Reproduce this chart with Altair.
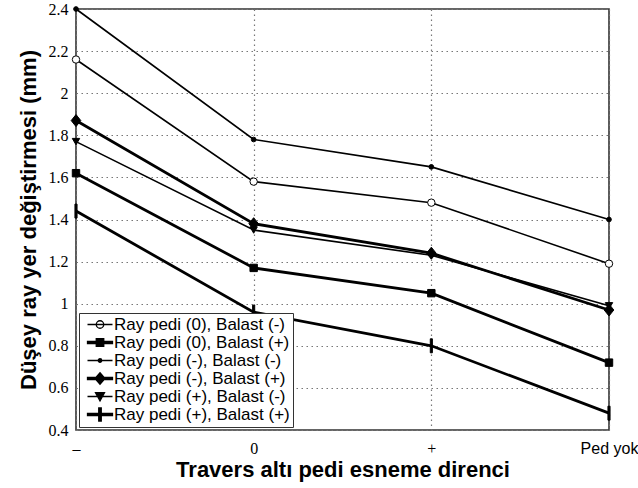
import altair as alt
import pandas as pd

cats = ["–", "0", "+", "Ped yok"]
names = [
    "Ray pedi (0), Balast (-)",
    "Ray pedi (0), Balast (+)",
    "Ray pedi (-), Balast (-)",
    "Ray pedi (-), Balast (+)",
    "Ray pedi (+), Balast (-)",
    "Ray pedi (+), Balast (+)",
]
s_0m = [2.16, 1.58, 1.48, 1.19]
s_0p = [1.62, 1.17, 1.05, 0.72]
s_mm = [2.40, 1.78, 1.65, 1.40]
s_mp = [1.87, 1.38, 1.24, 0.97]
s_pm = [1.77, 1.35, 1.23, 0.99]
s_pp = [1.44, 0.96, 0.80, 0.48]
series_vals = [s_0m, s_0p, s_mm, s_mp, s_pm, s_pp]

# styles
widths = [1.6, 2.8, 1.6, 2.8, 1.6, 2.8]
fills = ["white", "black", "black", "black", "black", "black"]
strokes = ["black"] * 6
marker_shapes = [
    "circle",
    "square",
    "circle",
    "M0,-1L0.8,0L0,1L-0.8,0Z",
    "triangle-down",
    "M-0.15,-1H0.15V1H-0.15Z",
]
marker_sizes = [55, 55, 22, 144, 55, 196]
thin = "M-0.6,0H4.4"
thick = "M-0.6,-0.2H4.4V0.2H-0.6Z"
legend_paths = [
    thin + "M1.15,0A0.75,0.75 0 1,1 2.65,0A0.75,0.75 0 1,1 1.15,0Z",
    thick + "M1.15,-0.75H2.65V0.75H1.15Z",
    thin + "M1.55,0A0.35,0.35 0 1,1 2.25,0A0.35,0.35 0 1,1 1.55,0Z",
    thick + "M1.9,-1.15L2.9,0L1.9,1.15L0.9,0Z",
    thin + "M1.0,-0.75H2.8L1.9,0.9Z",
    thick + "M1.65,-1.3H2.15V1.3H1.65Z",
]

rows = []
for i, name in enumerate(names):
    for c, v in zip(cats, series_vals[i]):
        rows.append({
            "series": name, "cat": c, "val": v, "w": widths[i],
            "fc": fills[i], "shp": marker_shapes[i], "sz": marker_sizes[i],
        })
df = pd.DataFrame(rows)

x_enc = alt.X(
    "cat:N", sort=cats, scale=alt.Scale(type="point", padding=0),
    axis=alt.Axis(
        title="Travers altı pedi esneme direnci",
        labelAngle=0,
        labelFont={"condition": {"test": "datum.value == 'Ped yok'", "value": "Liberation Sans"},
                   "value": "Liberation Serif"},
        labelFontSize=16, labelColor="black", labelPadding=10,
        ticks=False, domain=False,
        grid=True, gridColor="#777", gridDash=[1.5, 3.5], gridWidth=1.2,
        titleFont="Liberation Sans", titleFontSize=22, titleFontWeight="bold",
        titleColor="black", titlePadding=3,
    ),
)
y_enc = alt.Y(
    "val:Q", scale=alt.Scale(domain=[0.4, 2.4], nice=False, zero=False),
    axis=alt.Axis(
        title="Düşey ray yer değiştirmesi (mm)",
        values=[0.4, 0.6, 0.8, 1.0, 1.2, 1.4, 1.6, 1.8, 2.0, 2.2, 2.4],
        format=".1~f",
        labelFont="Liberation Serif", labelFontSize=16, labelColor="black",
        labelPadding=8, ticks=False, domain=False,
        grid=True, gridColor="#777", gridDash=[1.5, 3.5], gridWidth=1.2,
        titleFont="Liberation Sans", titleFontSize=22, titleFontWeight="bold",
        titleColor="black", titlePadding=8,
    ),
)

base = alt.Chart(df)

lines = base.mark_line(color="black").encode(
    x=x_enc, y=y_enc, detail="series:N",
    strokeWidth=alt.StrokeWidth("w:Q", scale=None),
)

points = base.mark_point(stroke="black", strokeWidth=1, opacity=1).encode(
    x=x_enc, y=y_enc,
    shape=alt.Shape("shp:N", scale=None),
    fill=alt.Fill("fc:N", scale=None),
    size=alt.Size("sz:Q", scale=None),
)

leg = alt.Legend(
    title=None, orient="bottom-left", offset=3, fillColor="white",
    strokeColor="#333", padding=3, labelFont="Liberation Sans",
    labelFontSize=17, labelColor="black", symbolSize=100, labelLimit=0,
    symbolStrokeWidth=1.3, symbolStrokeColor="black", rowPadding=0,
    labelOffset=15,
)

legend_layer = base.transform_filter("false").mark_point(
    strokeWidth=1.3, opacity=1
).encode(
    x=x_enc, y=y_enc,
    shape=alt.Shape("series:N", scale=alt.Scale(domain=names, range=legend_paths), legend=leg),
    fill=alt.Fill("series:N", scale=alt.Scale(domain=names, range=fills), legend=leg),
    stroke=alt.Stroke("series:N", scale=alt.Scale(domain=names, range=strokes), legend=leg),
)

chart = alt.layer(lines, points, legend_layer).resolve_scale(
    shape="independent", fill="independent", size="independent", stroke="independent"
).properties(
    width=533, height=421,
    autosize=alt.AutoSizeParams(type="none"),
    padding={"left": 76, "top": 9, "right": 29, "bottom": 58},
    background="white",
).configure_view(stroke="#333", strokeWidth=1.6)

chart.save("out.html", embed_options={"renderer": "svg", "actions": False})
